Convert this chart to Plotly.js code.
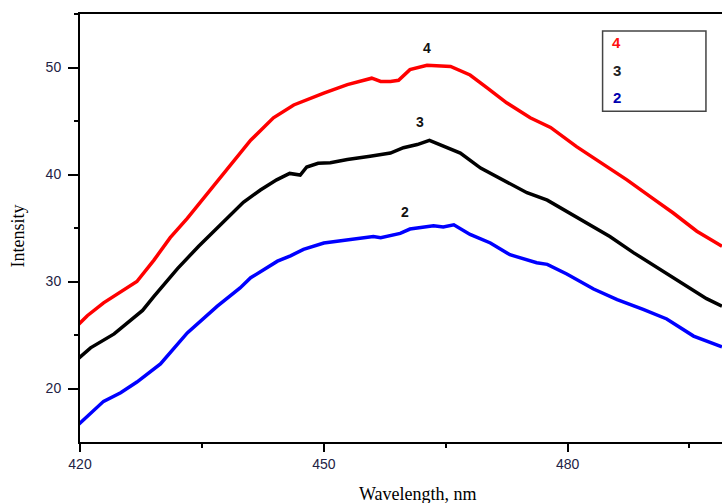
<!DOCTYPE html>
<html>
<head>
<meta charset="utf-8">
<script src="https://cdn.plot.ly/plotly-3.0.1.min.js"></script>
<style>html,body{margin:0;padding:0;background:#fff;}#chart{width:722px;height:503px;}</style>
</head>
<body>
<div id="chart"></div>
<script>
// Curve 4 (red)
const wl4 = [419.2, 420.9, 422.9, 425.0, 427.0, 429.1, 431.1, 433.2, 435.2, 437.4, 439.3, 441.0, 443.8, 446.3, 450.0, 452.9, 455.9, 457.0, 458.2, 459.2, 460.6, 462.7, 465.6, 468.0, 470.1, 472.5, 475.4, 477.9, 481.1, 484.8, 487.3, 490.6, 493.0, 495.9, 499.0];
const int4 = [25.5, 26.8, 28.0, 29.0, 30.0, 32.0, 34.1, 35.9, 37.8, 39.8, 41.6, 43.2, 45.3, 46.5, 47.6, 48.4, 49.0, 48.7, 48.7, 48.8, 49.8, 50.2, 50.1, 49.3, 48.1, 46.7, 45.3, 44.4, 42.6, 40.8, 39.5, 37.7, 36.4, 34.7, 33.3];
// Curve 3 (black)
const wl3 = [419.2, 421.3, 424.2, 427.7, 429.1, 432.0, 434.6, 437.5, 440.1, 442.2, 444.2, 445.8, 447.1, 447.9, 449.3, 450.8, 452.9, 455.7, 458.2, 459.8, 461.5, 463.0, 464.3, 466.8, 469.3, 472.1, 475.0, 477.5, 479.1, 482.0, 485.2, 488.1, 491.4, 495.1, 497.1, 499.0];
const int3 = [22.4, 23.8, 25.1, 27.3, 28.6, 31.2, 33.3, 35.5, 37.4, 38.55, 39.5, 40.1, 39.95, 40.7, 41.05, 41.1, 41.4, 41.7, 42.0, 42.5, 42.8, 43.2, 42.8, 42.0, 40.6, 39.5, 38.3, 37.6, 36.9, 35.6, 34.2, 32.7, 31.1, 29.4, 28.4, 27.7];
// Curve 2 (blue)
const wl2 = [419.2, 422.9, 425.0, 427.0, 429.9, 433.2, 436.9, 439.7, 441.0, 444.3, 445.9, 447.5, 450.0, 452.9, 456.1, 457.0, 459.4, 460.6, 463.5, 464.7, 466.0, 468.0, 470.5, 472.9, 476.2, 477.5, 479.9, 483.2, 486.1, 489.3, 492.2, 495.5, 499.0];
const int2 = [16.2, 18.8, 19.6, 20.6, 22.3, 25.2, 27.7, 29.4, 30.35, 31.9, 32.4, 33.0, 33.6, 33.9, 34.2, 34.1, 34.5, 34.9, 35.2, 35.1, 35.3, 34.4, 33.6, 32.5, 31.75, 31.6, 30.7, 29.3, 28.3, 27.4, 26.5, 24.9, 23.9];

const seriesNames = ["4", "3", "2"];
const seriesColors = ["#ff0000", "#000000", "#0000ff"];
const legendTextColors = ["#ff1010", "#222222", "#0000b0"];
const xTicks = [420, 450, 480];
const yTicks = [20, 30, 40, 50];
// curve label positions (data coords)
const labelX = [462.7, 461.8, 460.0];
const labelY = [51.8, 44.9, 36.5];

const xs = [wl4, wl3, wl2];
const ys = [int4, int3, int2];

const traces = xs.map((x, i) => ({
  x: x, y: ys[i], type: 'scatter', mode: 'lines', name: seriesNames[i],
  line: {color: seriesColors[i], width: 3.5}, showlegend: false, hoverinfo: 'skip'
}));

const tickFont = {family: 'Liberation Sans, Arial, sans-serif', size: 14, color: '#222244'};
const titleFont = {family: 'Liberation Serif, Times New Roman, serif', size: 18, color: '#000'};

const annotations = [];
seriesNames.forEach((n, i) => {
  annotations.push({x: labelX[i], y: labelY[i], xref: 'x', yref: 'y', text: '<b>' + n + '</b>', showarrow: false,
    font: {family: 'Liberation Sans, Arial, sans-serif', size: 14, color: '#111'}});
  annotations.push({x: 0.836, y: [0.933, 0.867, 0.805][i], xref: 'paper', yref: 'paper', text: '<b>' + n + '</b>', showarrow: false,
    xanchor: 'center', yanchor: 'middle',
    font: {family: 'Liberation Sans, Arial, sans-serif', size: 15, color: legendTextColors[i]}});
});
annotations.push({x: 0.527, y: 0, xref: 'paper', yref: 'paper', yanchor: 'middle', yshift: -52, text: 'Wavelength, nm', showarrow: false, font: titleFont});
annotations.push({x: 0, y: 0.48, xref: 'paper', yref: 'paper', xanchor: 'center', xshift: -62, text: 'Intensity', textangle: -90, showarrow: false, font: titleFont});

const layout = {
  width: 722, height: 503,
  margin: {l: 80, r: 0, t: 14, b: 61},
  paper_bgcolor: '#fff', plot_bgcolor: '#fff',
  showlegend: false,
  xaxis: {
    range: [420, 499], tickvals: xTicks, ticktext: xTicks.map(String),
    showgrid: false, zeroline: false, showline: true, mirror: true, linecolor: '#000', linewidth: 2,
    ticks: 'outside', ticklen: 8, tickwidth: 2, tickcolor: '#000', tickfont: tickFont,
    minor: {tickvals: [435, 465, 495], ticks: 'outside', ticklen: 4, tickwidth: 2, tickcolor: '#000', showgrid: false}
  },
  yaxis: {
    range: [15, 55], tickvals: yTicks, ticktext: yTicks.map(String),
    showgrid: false, zeroline: false, showline: true, linecolor: '#000', linewidth: 2,
    ticks: 'outside', ticklen: 10, tickwidth: 2, tickcolor: '#000', tickfont: tickFont, ticklabelstandoff: 4,
    minor: {tickvals: [25, 35, 45, 55], ticks: 'outside', ticklen: 4, tickwidth: 2, tickcolor: '#000', showgrid: false}
  },
  shapes: [{type: 'rect', xref: 'paper', yref: 'paper', x0: 0.814, x1: 0.975, y0: 0.773, y1: 0.960,
    line: {color: '#444', width: 1.5}, fillcolor: 'rgba(0,0,0,0)'}],
  annotations: annotations
};

Plotly.newPlot('chart', traces, layout, {displayModeBar: false, staticPlot: true});
</script>
</body>
</html>
